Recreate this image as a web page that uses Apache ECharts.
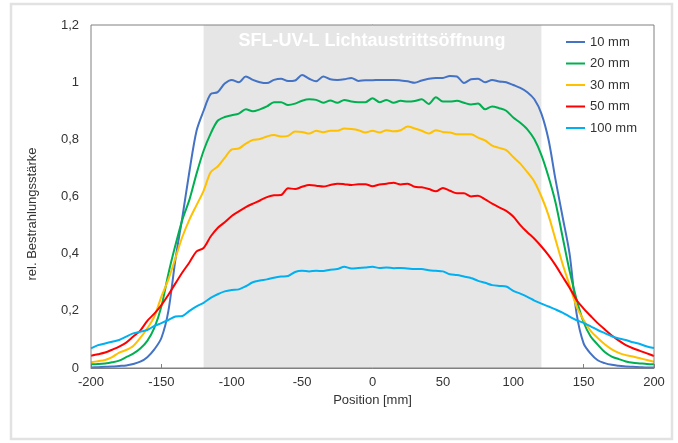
<!DOCTYPE html>
<html>
<head>
<meta charset="utf-8">
<script src="https://cdn.jsdelivr.net/npm/echarts@6/dist/echarts.min.js"></script>
<style>
  html, body { margin: 0; padding: 0; background: #fff; }
  #chart { width: 678px; height: 443px; }
</style>
</head>
<body>
<div id="chart"></div>
<script>
// Position [mm]
const positionen = [
  -200, -195, -190, -185, -180, -175, -170, -165, -160, -155,
  -150, -145, -140, -135, -130, -125, -120, -115, -110, -105,
  -100, -95, -90, -85, -80, -75, -70, -65, -60, -55,
  -50, -45, -40, -35, -30, -25, -20, -15, -10, -5,
  0, 5, 10, 15, 20, 25, 30, 35, 40, 45,
  50, 55, 60, 65, 70, 75, 80, 85, 90, 95,
  100, 105, 110, 115, 120, 125, 130, 135, 140, 145,
  150, 155, 160, 165, 170, 175, 180, 185, 190, 195,
  200
];

const abstand10 = [
  0.002, 0.003, 0.004, 0.005, 0.007, 0.009, 0.014, 0.022, 0.038, 0.065,
  0.105, 0.2, 0.38, 0.53, 0.69, 0.83, 0.9, 0.958, 0.965, 0.995,
  1.008, 1.0, 1.02, 1.008, 1.0, 0.997, 1.008, 1.012, 1.004, 1.006,
  1.025, 1.012, 1.003, 1.02, 1.01, 1.008, 1.01, 1.015, 1.004, 1.007,
  1.007, 1.008, 1.008, 1.008, 1.006, 1.003, 0.998, 1.006, 1.012, 1.015,
  1.015, 1.022, 1.02, 0.997, 1.01, 1.012, 1.0, 1.008, 1.002, 1.0,
  0.99, 0.98, 0.965, 0.94, 0.89, 0.8, 0.66, 0.53, 0.40, 0.19,
  0.086, 0.05, 0.027, 0.017, 0.011, 0.008, 0.005, 0.004, 0.003, 0.002,
  0.002
];

const abstand20 = [
  0.013, 0.014, 0.016, 0.02, 0.026, 0.038, 0.05, 0.068, 0.095, 0.14,
  0.215, 0.33, 0.43, 0.52, 0.59, 0.68, 0.76, 0.82, 0.865, 0.878,
  0.884, 0.89, 0.905, 0.898, 0.905, 0.915, 0.93, 0.93, 0.92, 0.925,
  0.935, 0.94, 0.938, 0.928, 0.936, 0.928, 0.938, 0.932, 0.93, 0.93,
  0.944, 0.93, 0.938, 0.928, 0.935, 0.932, 0.934, 0.94, 0.924, 0.947,
  0.932, 0.932, 0.935, 0.928, 0.922, 0.925, 0.905, 0.915, 0.909, 0.9,
  0.876, 0.858, 0.835, 0.8, 0.745, 0.67, 0.58, 0.46, 0.34, 0.24,
  0.16, 0.11, 0.082, 0.056, 0.04, 0.031, 0.023, 0.018, 0.016, 0.014,
  0.013
];

const abstand30 = [
  0.02, 0.024, 0.028, 0.038, 0.054, 0.063, 0.077, 0.105, 0.139, 0.18,
  0.25, 0.31, 0.385, 0.46, 0.52, 0.57, 0.62, 0.685, 0.705, 0.735,
  0.765, 0.768, 0.785, 0.798, 0.801, 0.81, 0.815, 0.81, 0.812, 0.827,
  0.826, 0.82, 0.83, 0.825, 0.83, 0.83, 0.838, 0.836, 0.832, 0.824,
  0.83, 0.824, 0.832, 0.828, 0.832, 0.845, 0.838, 0.83, 0.82, 0.832,
  0.826, 0.824, 0.818, 0.818, 0.818, 0.806, 0.796, 0.778, 0.77, 0.762,
  0.738, 0.715, 0.685, 0.652, 0.6, 0.535, 0.45, 0.365, 0.29, 0.215,
  0.168, 0.13, 0.105, 0.083, 0.065, 0.053, 0.045, 0.04, 0.034, 0.028,
  0.022
];

const abstand50 = [
  0.043, 0.048, 0.054, 0.064, 0.075, 0.089, 0.11, 0.131, 0.165, 0.19,
  0.22, 0.256, 0.296, 0.335, 0.37, 0.408, 0.42, 0.46, 0.49, 0.51,
  0.532, 0.548, 0.563, 0.575, 0.586, 0.598, 0.604, 0.605, 0.629, 0.626,
  0.634, 0.64, 0.638, 0.635, 0.64, 0.645, 0.643, 0.64, 0.643, 0.643,
  0.636, 0.642, 0.645, 0.648, 0.642, 0.645, 0.634, 0.632, 0.626, 0.618,
  0.63, 0.62, 0.611, 0.611, 0.6, 0.603, 0.59, 0.575, 0.562, 0.55,
  0.53, 0.5, 0.475, 0.452, 0.425, 0.395, 0.36, 0.32, 0.281, 0.238,
  0.208, 0.182, 0.157, 0.135, 0.114, 0.096, 0.08, 0.069, 0.06, 0.051,
  0.042
];

const abstand100 = [
  0.069, 0.08, 0.086, 0.092, 0.098, 0.11, 0.121, 0.127, 0.133, 0.147,
  0.157, 0.168, 0.18, 0.182, 0.2, 0.216, 0.228, 0.245, 0.258, 0.268,
  0.273, 0.275, 0.286, 0.3, 0.306, 0.31, 0.316, 0.32, 0.322, 0.336,
  0.34, 0.338, 0.34, 0.339, 0.344, 0.346, 0.354, 0.348, 0.35, 0.352,
  0.354, 0.35, 0.352, 0.349, 0.35, 0.348, 0.346, 0.346, 0.342, 0.34,
  0.338, 0.328, 0.325, 0.32, 0.315, 0.305, 0.298, 0.29, 0.287, 0.285,
  0.27, 0.26, 0.249, 0.236, 0.225, 0.215, 0.205, 0.194, 0.18, 0.167,
  0.158, 0.146, 0.133, 0.122, 0.111, 0.103, 0.098, 0.09, 0.084, 0.075,
  0.07
];

// Lichtaustrittsöffnung (grau hinterlegt)
const oeffnungVon = -120;
const oeffnungBis = 120;

const schrift = "'Liberation Sans', Arial, sans-serif";

let kurven = [
  { name: "10 mm", werte: abstand10, farbe: "#4472C4" },
  { name: "20 mm", werte: abstand20, farbe: "#00B050" },
  { name: "30 mm", werte: abstand30, farbe: "#FFC000" },
  { name: "50 mm", werte: abstand50, farbe: "#FF0000" },
  { name: "100 mm", werte: abstand100, farbe: "#00B0F0" },
];

let series = [];

// Hintergrundfläche
series.push({
  name: "oeffnung",
  type: "line",
  data: [],
  z: 1,
  silent: true,
  markArea: {
    silent: true,
    itemStyle: { color: "#e6e6e6" },
    data: [[{ xAxis: oeffnungVon }, { xAxis: oeffnungBis }]],
  },
});

kurven.forEach((k) => {
  series.push({
    name: k.name,
    type: "line",
    z: 3,
    showSymbol: false,
    smooth: 0.3,
    color: k.farbe,
    lineStyle: { width: 2, color: k.farbe },
    data: positionen.map((x, i) => [x, k.werte[i]]),
  });
});

let options = {
  animation: false,
  textStyle: { fontFamily: schrift },
  grid: {
    left: 91,
    right: 24,
    top: 25,
    bottom: 75,
    show: true,
    z: 10,
    backgroundColor: "transparent",
    borderColor: "#808080",
    borderWidth: 1,
  },
  xAxis: {
    type: "value",
    min: -200,
    max: 200,
    interval: 50,
    name: "Position [mm]",
    nameLocation: "middle",
    nameGap: 24,
    nameTextStyle: { fontSize: 13, color: "#333", fontFamily: schrift },
    splitLine: { show: false },
    axisLine: { onZero: false, lineStyle: { color: "#808080" } },
    axisTick: { inside: true, length: 4, lineStyle: { color: "#808080" } },
    axisLabel: { fontSize: 13, color: "#333", margin: 8, fontFamily: schrift },
  },
  yAxis: {
    type: "value",
    min: 0,
    max: 1.2,
    interval: 0.2,
    splitLine: { show: false },
    axisLine: { show: true, lineStyle: { color: "#808080" } },
    axisTick: { show: false },
    axisLabel: {
      fontSize: 13,
      color: "#333",
      margin: 12,
      fontFamily: schrift,
      formatter: (v) => String(Math.round(v * 10) / 10).replace(".", ","),
    },
  },
  legend: {
    data: kurven.map((k) => k.name),
    orient: "vertical",
    left: 566,
    top: 34,
    padding: 0,
    icon: "rect",
    itemWidth: 19,
    itemHeight: 2,
    itemGap: 5.5,
    textStyle: { fontSize: 13, color: "#333", lineHeight: 16, fontFamily: schrift },
  },
  graphic: [
    {
      type: "text",
      x: 372,
      y: 41,
      z: 20,
      style: {
        text: "SFL-UV-L Lichtaustrittsöffnung",
        fill: "#ffffff",
        font: "bold 18px " + schrift,
        textAlign: "center",
        textVerticalAlign: "middle",
      },
    },
    {
      type: "text",
      x: 32,
      y: 214,
      rotation: Math.PI / 2,
      style: {
        text: "rel. Bestrahlungsstärke",
        fill: "#333",
        font: "13px " + schrift,
        textAlign: "center",
        textVerticalAlign: "middle",
      },
    },
    {
      type: "rect",
      z: -1,
      shape: { x: 11, y: 4, width: 661, height: 435 },
      style: { fill: "none", stroke: "#e2e2e2", lineWidth: 2.5 },
    },
  ],
  series,
};

var chart = echarts.init(document.getElementById("chart"));
chart.setOption(options);
window.addEventListener("resize", function () {
  chart.resize();
});
</script>
</body>
</html>
